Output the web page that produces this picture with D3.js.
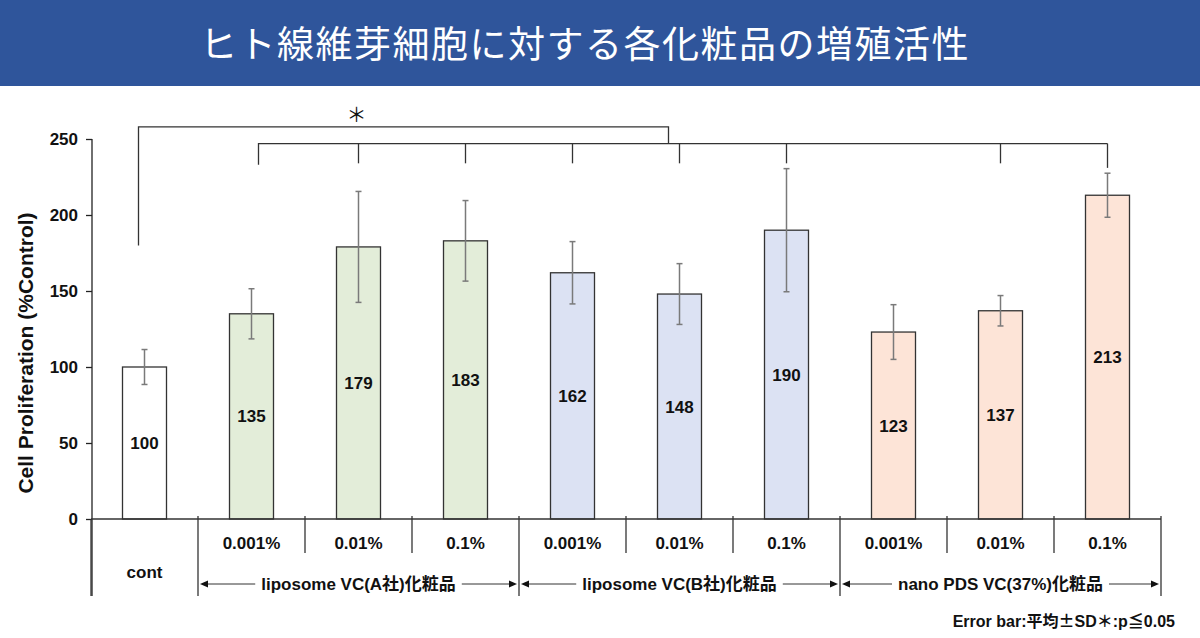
<!DOCTYPE html>
<html>
    <head>
        <meta charset="utf-8">
        <title>ヒト線維芽細胞に対する各化粧品の増殖活性</title>
        <script type="text/javascript" src="https://d3js.org/d3.v7.min.js"></script>
        <style>
            body {margin: 0; background: #fff;}
            svg text {font-family: "Liberation Sans", Arial, "Noto Sans CJK JP", sans-serif; font-weight: bold; fill: #111;}
        </style>
    </head>
    <body>
        <script>
            // Données du graphique
            var categories = ["cont", "A 0.001%", "A 0.01%", "A 0.1%", "B 0.001%", "B 0.01%", "B 0.1%", "C 0.001%", "C 0.01%", "C 0.1%"];
            var concLabels = ["", "0.001%", "0.01%", "0.1%", "0.001%", "0.01%", "0.1%", "0.001%", "0.01%", "0.1%"];
            var groupOf = ["cont", "A", "A", "A", "B", "B", "B", "C", "C", "C"];
            var values = [100, 135, 179, 183, 162, 148, 190, 123, 137, 213];
            var sd = [11.5, 16.5, 36.5, 26.5, 20.5, 20, 40.5, 18, 10, 14.5];
            var groupNames = ["liposome VC(A社)化粧品", "liposome VC(B社)化粧品", "nano PDS VC(37%)化粧品"];
            var groupKeys = ["A", "B", "C"];
            var yTicks = [0, 50, 100, 150, 200, 250];
            var sigIndex = [1, 2, 3, 4, 5, 6, 8, 9];   // barres reliées au crochet
            var colors = {cont: "#ffffff", A: "#e3edd9", B: "#dce2f3", C: "#fde4d7"};

            var W = 1200, H = 638;
            var svg = d3.select("body").append("svg")
                .attr("width", W)
                .attr("height", H);

            // Bandeau du titre
            svg.append("rect").attr("x", 0).attr("y", 0).attr("width", W).attr("height", 86).attr("fill", "#2f559b");
            svg.append("text")
                .attr("x", 585).attr("y", 58)
                .attr("text-anchor", "middle")
                .style("font-family", "'Noto Sans CJK JP', sans-serif")
                .style("font-weight", "normal")
                .style("font-size", "37px")
                .style("letter-spacing", "1.5px")
                .style("fill", "#fff")
                .text("ヒト線維芽細胞に対する各化粧品の増殖活性");

            // Echelles
            var x = d3.scaleBand().domain(categories).range([91, 1161]).paddingInner(0).paddingOuter(0);
            var y = d3.scaleLinear().domain([0, 250]).range([519, 139]);
            var barW = 44;
            var cx = function(i) { return x(categories[i]) + x.bandwidth() / 2; };

            // Axe Y
            var yAxis = d3.axisLeft(y).tickValues(yTicks).tickSize(6).tickPadding(8);
            var gy = svg.append("g").attr("transform", "translate(92,0)").call(yAxis);
            gy.select(".domain").attr("stroke", "#222").attr("stroke-width", 1.3)
                .attr("d", "M0," + y(250) + "V" + (y(0) + 77));
            gy.selectAll(".tick line").attr("stroke", "#222").attr("stroke-width", 1.3);
            gy.selectAll(".tick text").style("font-size", "17px").attr("fill", "#111");

            svg.append("text")
                .attr("transform", "translate(33," + 353 + ") rotate(-90)")
                .attr("text-anchor", "middle")
                .style("font-size", "21px")
                .text("Cell Proliferation (%Control)");

            // Barres
            svg.selectAll("rect.bar")
                .data(values)
                .enter()
                .append("rect")
                .attr("class", "bar")
                .attr("x", function(d, i) { return cx(i) - barW / 2; })
                .attr("y", function(d) { return y(d); })
                .attr("width", barW)
                .attr("height", function(d) { return y(0) - y(d); })
                .attr("fill", function(d, i) { return colors[groupOf[i]]; })
                .attr("stroke", "#333")
                .attr("stroke-width", 1.3);

            // Barres d'erreur
            var err = svg.append("g").attr("stroke", "#7a7a7a").attr("stroke-width", 1.5);
            values.forEach(function(v, i) {
                var xc = cx(i);
                err.append("line").attr("x1", xc).attr("x2", xc).attr("y1", y(v + sd[i])).attr("y2", y(v - sd[i]));
                err.append("line").attr("x1", xc - 3).attr("x2", xc + 3).attr("y1", y(v + sd[i])).attr("y2", y(v + sd[i]));
                err.append("line").attr("x1", xc - 3).attr("x2", xc + 3).attr("y1", y(v - sd[i])).attr("y2", y(v - sd[i]));
            });

            // Valeurs dans les barres
            svg.selectAll("text.val")
                .data(values)
                .enter()
                .append("text")
                .attr("class", "val")
                .attr("x", function(d, i) { return cx(i); })
                .attr("y", function(d) { return (y(d) + y(0)) / 2 + 6; })
                .attr("text-anchor", "middle")
                .style("font-size", "17px")
                .text(function(d) { return d; });

            // Crochets de significativité
            var br = svg.append("g").attr("fill", "none").attr("stroke", "#333").attr("stroke-width", 1.3);
            var outerRight = cx(5) - 11;
            br.append("path").attr("d", "M" + (cx(0) - 6) + "," + y(180) + "V" + y(258) + "H" + outerRight + "V" + y(247));
            br.append("path").attr("d", "M" + (cx(1) + 7) + "," + y(233) + "V" + y(247) + "H" + cx(9));
            sigIndex.slice(1).forEach(function(i) {
                br.append("line").attr("x1", cx(i)).attr("x2", cx(i)).attr("y1", y(247)).attr("y2", y(i == 9 ? 231 : 234));
            });
            svg.append("text")
                .attr("x", cx(2) - 2).attr("y", y(258) - 5)
                .attr("text-anchor", "middle")
                .style("font-family", "'Noto Sans CJK JP', sans-serif")
                .style("font-weight", "normal")
                .style("font-size", "20px")
                .text("＊");

            // Axe X et cases de catégories
            var ax = svg.append("g").attr("stroke", "#333").attr("stroke-width", 1.3);
            ax.append("line").attr("x1", 91).attr("x2", 1161).attr("y1", y(0)).attr("y2", y(0));
            categories.forEach(function(c, i) {
                var xl = x(c);
                var major = (i == 0 || groupOf[i] != groupOf[i - 1]);
                ax.append("line").attr("x1", xl).attr("x2", xl)
                    .attr("y1", i == 0 ? y(0) : y(0) - 3)
                    .attr("y2", major ? y(0) + 77 : y(0) + 34);
            });
            ax.append("line").attr("x1", 1161).attr("x2", 1161).attr("y1", y(0) - 3).attr("y2", y(0) + 77);

            svg.selectAll("text.conc")
                .data(concLabels)
                .enter()
                .append("text")
                .attr("class", "conc")
                .attr("x", function(d, i) { return cx(i); })
                .attr("y", y(0) + 30)
                .attr("text-anchor", "middle")
                .style("font-size", "17px")
                .text(function(d) { return d; });

            svg.append("text")
                .attr("x", cx(0)).attr("y", y(0) + 59)
                .attr("text-anchor", "middle")
                .style("font-size", "17px")
                .text("cont");

            // Libellés de groupes avec flèches
            groupKeys.forEach(function(k, g) {
                var idx = [];
                groupOf.forEach(function(d, i) { if (d == k) idx.push(i); });
                var left = x(categories[idx[0]]);
                var right = x(categories[idx[idx.length - 1]]) + x.bandwidth();
                var mid = (left + right) / 2;
                var ay = y(0) + 65;
                var t = svg.append("text")
                    .attr("x", mid).attr("y", ay + 6)
                    .attr("text-anchor", "middle")
                    .style("font-size", "17px")
                    .text(groupNames[g]);
                var tw = t.node().getComputedTextLength();
                var a = svg.append("g");
                a.append("line").attr("x1", left + 8).attr("x2", mid - tw / 2 - 6).attr("y1", ay).attr("y2", ay)
                    .attr("stroke", "#333").attr("stroke-width", 1);
                a.append("line").attr("x1", mid + tw / 2 + 6).attr("x2", right - 8).attr("y1", ay).attr("y2", ay)
                    .attr("stroke", "#333").attr("stroke-width", 1);
                a.append("path").attr("d", "M" + (left + 2) + "," + ay + "l8,-3.5v7z").attr("fill", "#111");
                a.append("path").attr("d", "M" + (right - 2) + "," + ay + "l-8,-3.5v7z").attr("fill", "#111");
            });

            // Note
            var note = svg.append("text")
                .attr("x", 1175).attr("y", 627)
                .attr("text-anchor", "end")
                .style("font-size", "16px");
            note.append("tspan").text("Error bar:平均");
            note.append("tspan").style("font-family", "'Noto Sans CJK JP', sans-serif").text("±");
            note.append("tspan").text("SD");
            note.append("tspan").style("font-family", "'Noto Sans CJK JP', sans-serif").text("＊");
            note.append("tspan").text(":p≦0.05");
        </script>
    </body>
</html>
